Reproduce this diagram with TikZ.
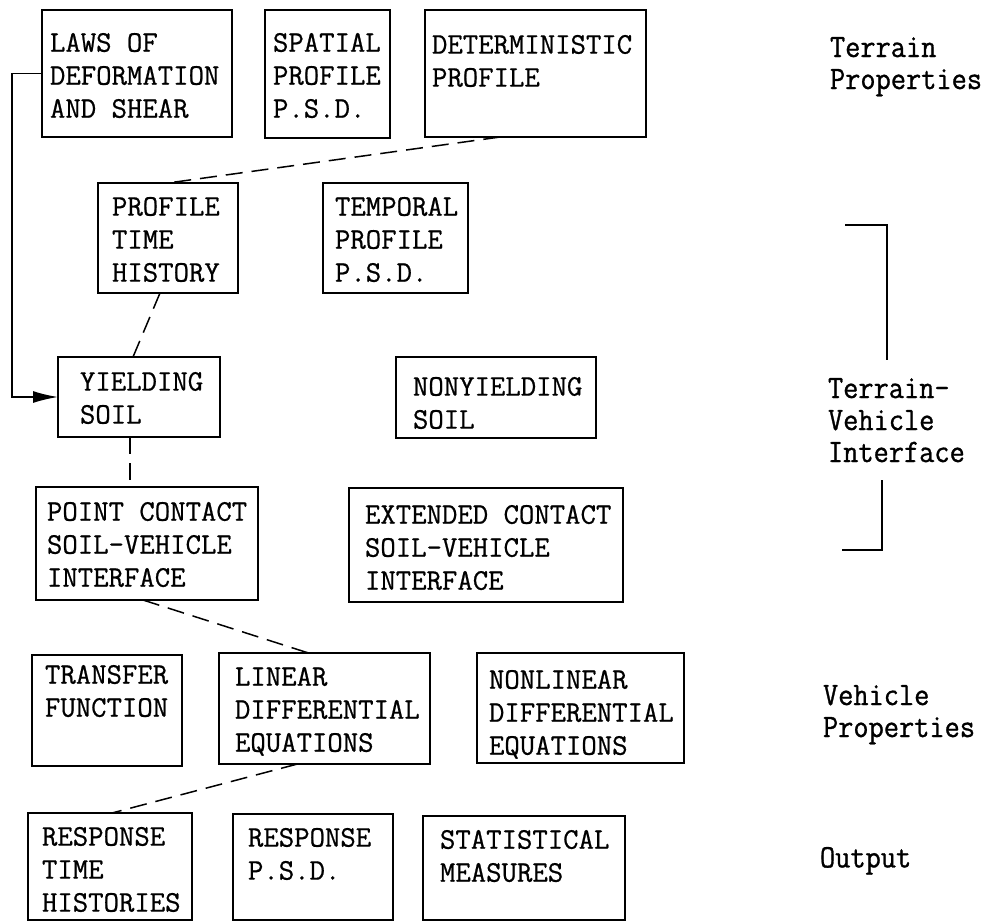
\documentclass[tikz,border=0pt]{standalone}
\usepackage{fontspec}
\usetikzlibrary{calc,arrows.meta}
\newfontfamily\boxfont{Latin Modern Mono}[FakeBold=0.7]
\newfontfamily\labfont{Latin Modern Mono}[FakeStretch=0.9,FakeBold=0.9]
\tikzset{
  box/.style={draw, line width=1.6bp, inner sep=0pt, outer sep=0pt, rectangle},
  boxtxt/.style={anchor=north west, inner sep=0pt, outer sep=0pt, align=left,
     font=\boxfont\fontsize{29.9bp}{33bp}\selectfont},
  labtxt/.style={anchor=north west, inner sep=0pt, outer sep=0pt, align=left,
     font=\labfont\fontsize{32.8bp}{32bp}\selectfont},
  link/.style={line width=1.5bp, dash pattern=on 17bp off 9bp},
  solidlink/.style={line width=1.5bp},
  brk/.style={line width=1.4bp}
}
\newcommand\mybox[8]{%
  \node[box, minimum width={(#4-#2)*1bp}, minimum height={(#5-#3)*1bp}]
    (#1) at ({(#2+#4)/2},{(#3+#5)/2}) {};
  \node[boxtxt] (#1-t) at (#6,#7) {#8};}
\begin{document}
\begin{tikzpicture}[x=1bp,y=-1bp]
\useasboundingbox (0,0) rectangle (993,921);
% Terrain properties
\mybox{laws}{42}{10}{232}{137}{50}{33}{LAWS OF\\DEFORMATION\\AND SHEAR}
\mybox{spat}{265}{10}{390}{138}{273}{33}{SPATIAL\\PROFILE\\P.S.D.}
\mybox{det}{425}{10}{646}{137}{432}{35}{DETERMINISTIC\\PROFILE}
% profiles
\mybox{pth}{98}{183}{238}{293}{112}{197}{PROFILE\\TIME\\HISTORY}
\mybox{temp}{323}{183}{468}{293}{335}{197}{TEMPORAL\\PROFILE\\P.S.D.}
% soils
\mybox{yld}{58}{357}{220}{437}{80}{372}{YIELDING\\SOIL}
\mybox{nyld}{396}{357}{596}{438}{413}{377}{NONYIELDING\\SOIL}
% contact
\mybox{pc}{36}{487}{258}{600}{47}{502}{POINT CONTACT\\SOIL-VEHICLE\\INTERFACE}
\mybox{ec}{349}{488}{623}{602}{365}{505}{EXTENDED CONTACT\\SOIL-VEHICLE\\INTERFACE}
% vehicle properties
\mybox{tf}{32}{655}{182}{766}{45}{665}{TRANSFER\\FUNCTION}
\mybox{lin}{219}{653}{430}{764}{235}{667}{LINEAR\\DIFFERENTIAL\\EQUATIONS}
\mybox{nlin}{477}{653}{684}{763}{489}{670}{NONLINEAR\\DIFFERENTIAL\\EQUATIONS}
% output
\mybox{rth}{28}{813}{192}{920}{42}{827}{RESPONSE\\TIME\\HISTORIES}
\mybox{rpsd}{233}{814}{393}{920}{248}{828}{RESPONSE\\P.S.D.}
\mybox{stat}{423}{816}{625}{920}{440}{830}{STATISTICAL\\MEASURES}
% right-hand labels
\node[labtxt] (lab1) at (830,37) {Terrain\\Properties};
\node[labtxt] (lab2) at (828,378) {Terrain-\\Vehicle\\Interface};
\node[labtxt] (lab3) at (823,685) {Vehicle\\Properties};
\node[labtxt] (lab4) at (820,847) {Output};
% bracket
\coordinate (bra) at (845,225);
\coordinate (brb) at (887,360);
\coordinate (brc) at (882,480);
\coordinate (brd) at (842,550);
\draw[brk] (bra) -- (bra -| brb) -- (brb);
\draw[brk] (brc) -- (brc |- brd) -- (brd);
% dashed connectors
\draw[link] ($(det.south west)!0.34!(det.south east)$) -- (pth.north);
\draw[link] ($(pth.south)+(-8,0)$) -- ($(yld.north)+(-6,0)$);
\draw[link] ($(yld.south)+(-9,0)$) -- ($(pc.north west)+(94,0)$);
\draw[link] ($(pc.south)+(-4,0)$) -- ($(lin.north)+(-16,0)$);
\draw[link] ($(lin.south)+(-27,0)$) -- ($(rth.north)+(2,0)$);
% solid arrow
\draw[solidlink, -{Latex[length=25bp,width=12bp]}] (laws.west) -- ++(-30,0) |- (yld.west);
\end{tikzpicture}
\end{document}
